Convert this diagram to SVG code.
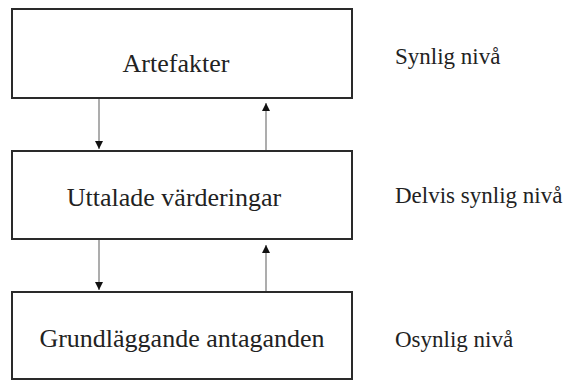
<svg xmlns="http://www.w3.org/2000/svg" width="567" height="381" viewBox="0 0 567 381">
<style>
.box{fill:#fff;stroke:#2a2a2a;stroke-width:2}
.lbl{font-family:"Liberation Serif","DejaVu Serif","Times New Roman",serif;font-size:26px;fill:#222;text-anchor:middle}
.side{font-family:"Liberation Serif","DejaVu Serif","Times New Roman",serif;font-size:23px;fill:#222}
.conn{stroke:#999;stroke-width:1.6;fill:none}
</style>
<defs>
<marker id="ah" viewBox="0 0 8 8" refX="8" refY="4" markerWidth="8" markerHeight="8" markerUnits="userSpaceOnUse" orient="auto">
<path d="M0,0 L8,4 L0,8 Z" fill="#111"/>
</marker>
</defs>
<rect width="567" height="381" fill="#fff"/>
<g id="connectors">
<line class="conn" x1="99" y1="99" x2="99" y2="149" marker-end="url(#ah)"/>
<line class="conn" x1="266" y1="150" x2="266" y2="103" marker-end="url(#ah)"/>
<line class="conn" x1="99" y1="240" x2="99" y2="290" marker-end="url(#ah)"/>
<line class="conn" x1="266" y1="291" x2="266" y2="245" marker-end="url(#ah)"/>
</g>
<g id="artefakter">
<rect class="box" x="12" y="9" width="340" height="89"/>
<text class="lbl" x="176" y="72">Artefakter</text>
</g>
<g id="uttalade">
<rect class="box" x="12" y="151" width="340" height="88"/>
<text class="lbl" x="174" y="206">Uttalade värderingar</text>
</g>
<g id="grundlaggande">
<rect class="box" x="12" y="292" width="340" height="87"/>
<text class="lbl" x="182" y="347">Grundläggande antaganden</text>
</g>
<g id="levels">
<text class="side" x="395" y="64">Synlig nivå</text>
<text class="side" x="395" y="203">Delvis synlig nivå</text>
<text class="side" x="395" y="347">Osynlig nivå</text>
</g>
</svg>
